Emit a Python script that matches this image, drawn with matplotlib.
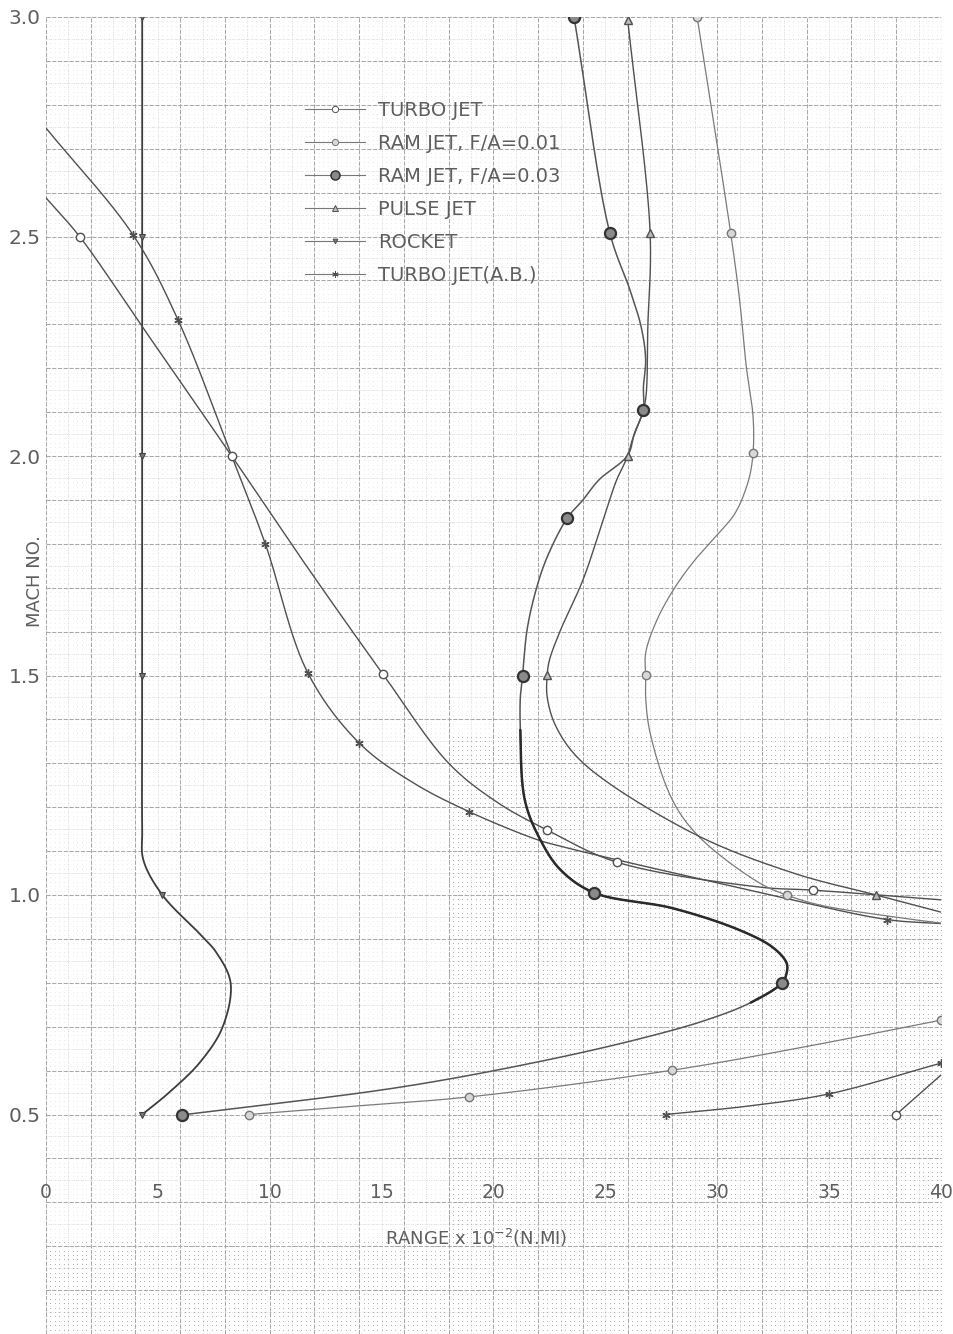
import numpy as np
import matplotlib
matplotlib.use("Agg")
import matplotlib.pyplot as plt
from matplotlib.lines import Line2D

# ---- data: range (x 10^-2 n.mi.) vs. Mach number ----
rocket_x = [4.3, 4.3, 4.3, 4.3, 4.3, 4.35, 5.2, 6.9, 7.6, 8.25, 7.9, 6.9, 5.5, 4.3]
rocket_y = [3.0, 2.5, 2.0, 1.5, 1.15, 1.08, 1.0, 0.91, 0.87, 0.8, 0.7, 0.62, 0.55, 0.5]
rocket_marks = [0, 1, 2, 3, 6, 13]

tjab_x = [0.0, 3.9, 5.9, 8.3, 9.8, 11.7, 14.0, 16.4, 18.9, 21.9, 23.0, 31.9, 37.6, 40.0]
tjab_y = [2.747, 2.503, 2.31, 2.0, 1.8, 1.506, 1.346, 1.256, 1.19, 1.127, 1.111, 1.006, 0.944, 0.935]
tjab_marks = [1, 2, 3, 4, 5, 6, 8, 12]
tjab_low_x = [27.7, 31.5, 35.0, 40.0]
tjab_low_y = [0.5, 0.52, 0.547, 0.617]
tjab_low_marks = [0, 2, 3]

tj_x = [0.0, 1.5, 4.5, 8.3, 11.5, 15.06, 18.0, 20.2, 22.4, 25.5, 31.9, 34.3, 40.0]
tj_y = [2.588, 2.5, 2.28, 2.0, 1.76, 1.503, 1.30, 1.21, 1.148, 1.075, 1.018, 1.011, 0.989]
tj_marks = [1, 3, 5, 8, 9, 11]
tj_low_x = [38.0, 40.0]
tj_low_y = [0.5, 0.59]
tj_low_marks = [0]

rj01_x = [29.1, 30.6, 31.0, 31.3, 31.6, 31.6, 31.4, 30.8, 29.9, 29.0, 28.1, 27.3,
          26.8, 26.8, 26.8, 27.0, 28.0, 29.2, 31.9, 33.1, 34.6, 37.9, 40.0]
rj01_y = [3.0, 2.508, 2.355, 2.203, 2.09, 2.007, 1.945, 1.87, 1.815, 1.763, 1.70, 1.626,
          1.551, 1.501, 1.451, 1.369, 1.216, 1.132, 1.027, 1.0, 0.977, 0.95, 0.936]
rj01_marks = [0, 1, 5, 13, 19]
rj01_low_x = [9.07, 13.5, 18.9, 28.0, 34.0, 40.0]
rj01_low_y = [0.5, 0.518, 0.54, 0.601, 0.655, 0.715]
rj01_low_marks = [0, 2, 3, 5]

rj03_x = [23.6, 25.2, 26.1, 26.6, 26.8, 26.7, 26.7, 26.3, 26.0, 24.7, 24.0, 23.3, 22.4,
          21.9, 21.5, 21.3, 21.2, 21.2, 21.4, 22.1, 23.0, 24.5, 28.0, 31.0, 32.5, 33.1,
          33.1, 32.9, 31.5, 29.5, 26.5, 22.0, 15.8, 6.08]
rj03_y = [3.0, 2.508, 2.378, 2.294, 2.22, 2.157, 2.105, 2.052, 2.002, 1.945, 1.90, 1.859,
          1.77, 1.695, 1.604, 1.499, 1.451, 1.376, 1.216, 1.125, 1.057, 1.005, 0.97, 0.92,
          0.88, 0.845, 0.822, 0.80, 0.755, 0.715, 0.672, 0.62, 0.562, 0.499]
rj03_marks = [0, 1, 6, 11, 15, 21, 27, 33]
rj03_heavy = (17, 28)   # stretch of the curve inked heavier

pj_x = [26.0, 27.0, 26.9, 26.8, 26.6, 26.2, 26.0, 25.5, 24.9, 24.0, 23.0, 22.5, 22.4,
        22.4, 22.8, 24.0, 28.9, 33.4, 37.1, 40.0]
pj_y = [2.993, 2.508, 2.3, 2.13, 2.09, 2.036, 2.0, 1.945, 1.854, 1.718, 1.604, 1.535,
        1.501, 1.451, 1.383, 1.301, 1.141, 1.05, 1.0, 0.961]
pj_marks = [0, 1, 6, 12, 18]

x_ticks = [0, 5, 10, 15, 20, 25, 30, 35, 40]
y_ticks = [0.5, 1.0, 1.5, 2.0, 2.5, 3.0]

legend_labels = ["TURBO JET", "RAM JET, F/A=0.01", "RAM JET, F/A=0.03",
                 "PULSE JET", "ROCKET", "TURBO JET(A.B.)"]

INK = "#505050"
TEXT = "#5e5e5e"

styles = {
    "TURBO JET": dict(color=INK, lw=1.0, marker="o", ms=6, mfc="white", mec=INK, mew=1.0),
    "RAM JET, F/A=0.01": dict(color="#7a7a7a", lw=0.9, marker="o", ms=6, mfc="#d8d8d8", mec="#777", mew=1.0),
    "RAM JET, F/A=0.03": dict(color="#555555", lw=1.1, marker="o", ms=8, mfc="#8a8a8a", mec="#333", mew=1.6),
    "PULSE JET": dict(color=INK, lw=1.0, marker="^", ms=6, mfc="#bbbbbb", mec=INK, mew=1.0),
    "ROCKET": dict(color="#3c3c3c", lw=1.3, marker="v", ms=5, mfc="#777", mec="#444", mew=0.8),
    "TURBO JET(A.B.)": dict(color=INK, lw=1.0, marker=(6, 2, 0), ms=6, mfc=INK, mec=INK, mew=1.0),
}

plt.rcParams["font.family"] = ["DejaVu Sans"]

fig = plt.figure(figsize=(9.54, 13.34), dpi=100)
ax = fig.add_axes([46 / 954, 0.0, (941 - 46) / 954, (1334 - 17) / 1334])
ax.set_xlim(0, 40)
ax.set_ylim(0, 3.0)
for s in ax.spines.values():
    s.set_visible(False)

# ---- graph paper ----
fx = np.arange(0, 40.001, 0.2)
fy = np.arange(0, 3.0001, 0.01)
FX, FY = np.meshgrid(fx, fy)
dense = ((FX >= 18.0) & (FY <= 1.36)) | (FY <= 0.21)
ax.scatter(FX[~dense], FY[~dense], s=0.25, c="#dcdcdc", linewidths=0, zorder=0)
ax.scatter(FX[dense], FY[dense], s=0.55, c="#a4a4a4", linewidths=0, zorder=0)

for xv in np.arange(0, 40.001, 1.0):
    major = abs(xv / 2 - round(xv / 2)) < 1e-6
    ax.axvline(xv, color="#a8a8a8" if major else "#cdcdcd",
               lw=0.75 if major else 0.55,
               ls=(0, (4, 1.5)) if major else (0, (1, 2)), zorder=0.5)
for yv in np.arange(0, 3.0001, 0.05):
    major = abs(yv / 0.1 - round(yv / 0.1)) < 1e-6
    ax.axhline(yv, color="#a8a8a8" if major else "#cdcdcd",
               lw=0.75 if major else 0.55,
               ls=(0, (4, 1.5)) if major else (0, (1, 2)), zorder=0.5)

fig.canvas.draw()

N_SEG = 30


def smooth(xs, ys, n=N_SEG):
    """Centripetal Catmull-Rom through the points, computed in display space."""
    P = ax.transData.transform(np.column_stack([xs, ys]))
    if len(P) < 3:
        return ax.transData.inverted().transform(P)
    P = np.vstack([2 * P[0] - P[1], P, 2 * P[-1] - P[-2]])
    out = []
    for i in range(1, len(P) - 2):
        p0, p1, p2, p3 = P[i - 1:i + 3]
        t0 = 0.0
        t1 = t0 + np.linalg.norm(p1 - p0) ** 0.5
        t2 = t1 + np.linalg.norm(p2 - p1) ** 0.5
        t3 = t2 + np.linalg.norm(p3 - p2) ** 0.5
        t = np.linspace(t1, t2, n)[:, None]
        A1 = (t1 - t) / (t1 - t0) * p0 + (t - t0) / (t1 - t0) * p1
        A2 = (t2 - t) / (t2 - t1) * p1 + (t - t1) / (t2 - t1) * p2
        A3 = (t3 - t) / (t3 - t2) * p2 + (t - t2) / (t3 - t2) * p3
        B1 = (t2 - t) / (t2 - t0) * A1 + (t - t0) / (t2 - t0) * A2
        B2 = (t3 - t) / (t3 - t1) * A2 + (t - t1) / (t3 - t1) * A3
        C = (t2 - t) / (t2 - t1) * B1 + (t - t1) / (t2 - t1) * B2
        out.append(C if i == len(P) - 3 else C[:-1])
    return ax.transData.inverted().transform(np.vstack(out))


def draw(label, xs, ys, marks, heavy=None):
    st = styles[label]
    curve = smooth(xs, ys)
    ax.plot(curve[:, 0], curve[:, 1], color=st["color"], lw=st["lw"],
            solid_capstyle="round", zorder=3)
    if heavy is not None:
        a, b = heavy
        seg = curve[a * (N_SEG - 1): b * (N_SEG - 1) + 1]
        ax.plot(seg[:, 0], seg[:, 1], color="#2a2a2a", lw=1.8,
                solid_capstyle="round", zorder=3.1)
    mx = [xs[i] for i in marks]
    my = [ys[i] for i in marks]
    ax.plot(mx, my, ls="none", marker=st["marker"], ms=st["ms"], mfc=st["mfc"],
            mec=st["mec"], mew=st["mew"], zorder=4)


draw("ROCKET", rocket_x, rocket_y, rocket_marks)
draw("TURBO JET(A.B.)", tjab_x, tjab_y, tjab_marks)
draw("TURBO JET(A.B.)", tjab_low_x, tjab_low_y, tjab_low_marks)
draw("TURBO JET", tj_x, tj_y, tj_marks)
draw("TURBO JET", tj_low_x, tj_low_y, tj_low_marks)
draw("RAM JET, F/A=0.01", rj01_x, rj01_y, rj01_marks)
draw("RAM JET, F/A=0.01", rj01_low_x, rj01_low_y, rj01_low_marks)
draw("PULSE JET", pj_x, pj_y, pj_marks)
draw("RAM JET, F/A=0.03", rj03_x, rj03_y, rj03_marks, heavy=rj03_heavy)

# ---- axis text ----
ax.set_xticks([])
ax.set_yticks(y_ticks)
ax.set_yticklabels([f"{v:.1f}" for v in y_ticks], fontsize=14.5, color=TEXT)
ax.tick_params(axis="y", length=0, pad=4)

for xv in x_ticks:
    ax.text(xv, 0.30, f"{xv:d}", ha="center", va="bottom", fontsize=13.5,
            color=TEXT, zorder=5, clip_on=False)
ax.text(15.15, 0.219, "RANGE x 10$^{-2}$(N.MI)", ha="left", va="center",
        fontsize=13, color=TEXT, zorder=5)
fig.text(35 / 954, 1 - 581 / 1334, "MACH NO.", rotation=90, ha="center",
         va="center", fontsize=13, color=TEXT)

# ---- legend ----
handles = []
for lab in legend_labels:
    st = styles[lab]
    handles.append(Line2D([], [], color="#777", lw=0.8,
                          marker=st["marker"], ms=st["ms"] - 1.5, mfc=st["mfc"],
                          mec=st["mec"], mew=st["mew"] * 0.7))
leg = ax.legend(handles, legend_labels, loc="upper left",
                bbox_to_anchor=(305 / 954, 1 - 101 / 1334),
                bbox_transform=fig.transFigure, frameon=False, fontsize=14,
                handlelength=3.1, handletextpad=0.67, labelspacing=0.72,
                borderpad=0, borderaxespad=0, numpoints=1, labelcolor=TEXT)
leg.set_zorder(6)

fig.savefig("out.png", dpi=100, facecolor="white")
